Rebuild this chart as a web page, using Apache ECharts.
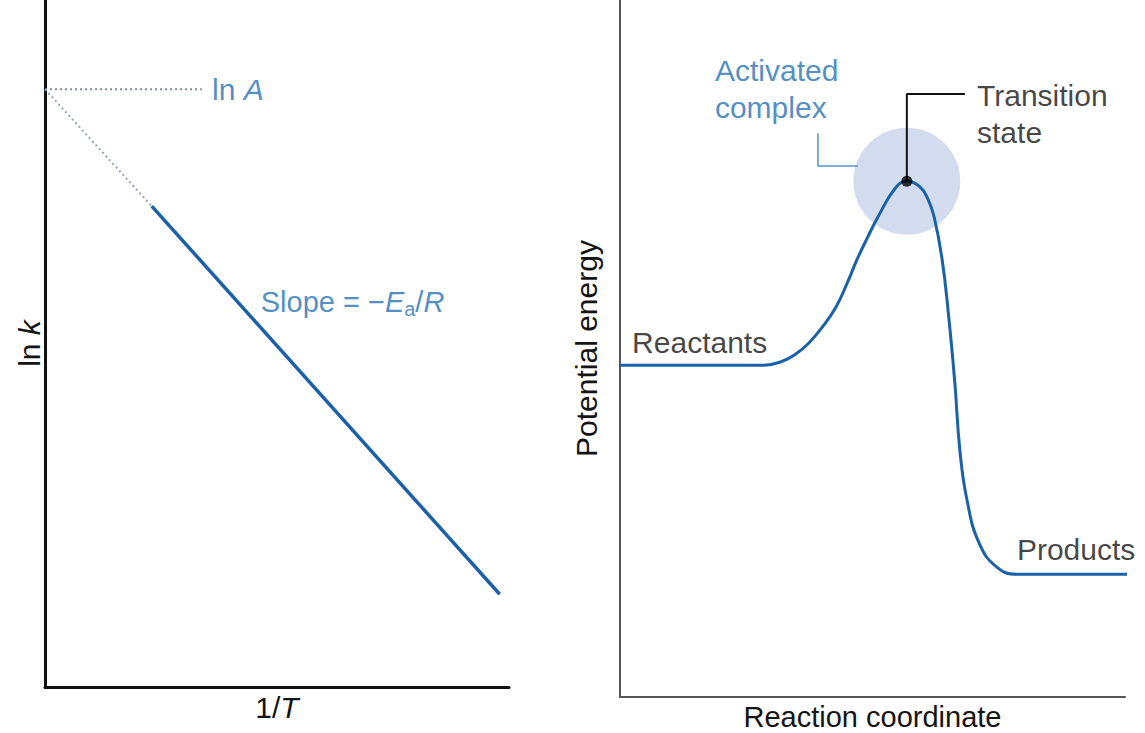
<!DOCTYPE html>
<html>
<head>
<meta charset="utf-8">
<script src="https://cdn.jsdelivr.net/npm/echarts@6/dist/echarts.min.js"></script>
<style>
  html, body { margin: 0; padding: 0; background: #fff; }
  #chart { width: 1145px; height: 733px; }
</style>
</head>
<body>
<div id="chart"></div>
<script>
// left panel: Arrhenius plot (arbitrary units 0..100)
const lnAValue = 87
const lnALine = [[-4.3, 87], [33.8, 87]]
const extrapLine = [[0, 87], [23, 70]]
const measuredLine = [[23, 70], [98, 13.5]]

// right panel: energy profile (arbitrary units 0..100)
const profileX = [0, 28.5, 31.9, 34.8, 37.4, 40.2, 42.8, 45.0, 46.9, 49.0, 51.1, 54.5, 56.8, 59.4, 61.0, 62.2, 63.8, 65.1, 66.3, 67.3, 68.7, 71.1, 74.5, 78.6, 100.6]
const profileY = [47.6, 47.6, 48.1, 49.2, 50.8, 53.2, 56.0, 59.4, 62.7, 65.9, 68.9, 73.0, 74.0, 73.2, 71.4, 68.9, 62.7, 54.5, 45.1, 35.4, 28.3, 22.1, 18.7, 17.6, 17.6]
const transitionPoint = [56.8, 74.0]
const transitionLeader = [[56.8, 74.0], [56.8, 86.5], [68.3, 86.5]]
const complexLeader = [[39.2, 80.9], [39.2, 76.2], [47.1, 76.2]]

const blue = '#1b61a8'
const textBlue = '#2571b3'
const textBlack = '#141414'
const font = 'Liberation Sans, Arial, Helvetica, sans-serif'

const profile = profileX.map((x, i) => [x, profileY[i]])

// text label helper: invisible point with a label
function textPoint(pos, text, color, align, rich) {
  return {
    type: 'scatter',
    xAxisIndex: pos[2], yAxisIndex: pos[2],
    symbolSize: 0,
    silent: true,
    z: 5,
    data: [[pos[0], pos[1]]],
    label: {
      show: true,
      position: 'inside',
      formatter: text,
      color: color,
      textBorderWidth: 0,
      fontSize: 30,
      fontFamily: font,
      lineHeight: 37,
      align: align,
      verticalAlign: 'middle',
      rich: rich || {}
    }
  }
}

const chart = echarts.init(document.getElementById('chart'), null, { renderer: 'svg' })

const axisBase = {
  type: 'value',
  min: 0,
  max: 100,
  splitLine: { show: false },
  axisTick: { show: false },
  axisLabel: { show: false },
  nameLocation: 'middle',
  nameTextStyle: { fontSize: 30, fontFamily: font, color: textBlack }
}

const italicRich = {
  n: { fontSize: 30, fontFamily: font, color: textBlack },
  i: { fontSize: 30, fontFamily: font, color: textBlack, fontStyle: 'italic' }
}

chart.setOption({
  animation: false,
  backgroundColor: '#fff',
  grid: [
    { left: 45, top: 0, width: 464, height: 687, outerBoundsMode: 'none', containLabel: false },
    { left: 620, top: 0, width: 505, height: 697, outerBoundsMode: 'none', containLabel: false }
  ],
  xAxis: [
    Object.assign({}, axisBase, {
      gridIndex: 0,
      name: '{n|1/}{i|T}',
      nameGap: 5,
      nameTextStyle: Object.assign({}, axisBase.nameTextStyle, { rich: italicRich }),
      axisLine: { lineStyle: { color: '#111', width: 3 } }
    }),
    Object.assign({}, axisBase, {
      gridIndex: 1,
      name: 'Reaction coordinate',
      nameGap: 5,
      nameTextStyle: Object.assign({}, axisBase.nameTextStyle, { fontSize: 29, lineHeight: 30 }),
      axisLine: { lineStyle: { color: '#555', width: 2 } }
    })
  ],
  yAxis: [
    Object.assign({}, axisBase, {
      gridIndex: 0,
      name: '{n|ln }{i|k}',
      nameGap: 1,
      nameTextStyle: Object.assign({}, axisBase.nameTextStyle, { rich: italicRich }),
      axisLine: { lineStyle: { color: '#111', width: 3 } }
    }),
    Object.assign({}, axisBase, {
      gridIndex: 1,
      name: 'Potential energy',
      nameGap: 19,
      axisLine: { lineStyle: { color: '#555', width: 2 } }
    })
  ],
  series: [
    // dotted ln A level
    {
      type: 'line', xAxisIndex: 0, yAxisIndex: 0,
      data: lnALine, symbol: 'none', clip: false,
      lineStyle: { color: '#7f8a9c', width: 2, type: [2, 3] }
    },
    // dotted extrapolation
    {
      type: 'line', xAxisIndex: 0, yAxisIndex: 0,
      data: extrapLine, symbol: 'none',
      lineStyle: { color: '#98a4b8', width: 2, type: [2, 3] }
    },
    // measured line
    {
      type: 'line', xAxisIndex: 0, yAxisIndex: 0,
      data: measuredLine, symbol: 'none',
      lineStyle: { color: blue, width: 3.5 }
    },
    // activated complex halo
    {
      type: 'scatter', xAxisIndex: 1, yAxisIndex: 1,
      data: [transitionPoint], symbolSize: 107, silent: true, z: 1,
      itemStyle: { color: '#d3dcef', opacity: 1 }
    },
    // energy profile
    {
      type: 'line', xAxisIndex: 1, yAxisIndex: 1,
      data: profile, symbol: 'none', smooth: 0.45, clip: false, z: 3,
      lineStyle: { color: blue, width: 3 }
    },
    // transition state leader
    {
      type: 'line', xAxisIndex: 1, yAxisIndex: 1,
      data: transitionLeader, symbol: 'none', z: 4,
      lineStyle: { color: '#111', width: 2 }
    },
    // activated complex leader
    {
      type: 'line', xAxisIndex: 1, yAxisIndex: 1,
      data: complexLeader, symbol: 'none', z: 4,
      lineStyle: { color: '#5b93c6', width: 1.5 }
    },
    // transition state dot
    {
      type: 'scatter', xAxisIndex: 1, yAxisIndex: 1,
      data: [transitionPoint], symbolSize: 11, z: 6,
      itemStyle: { color: '#000' }
    },
    textPoint([36, lnAValue, 0], '{n|ln }{i|A}', textBlue, 'left', {
      n: { fontSize: 30, fontFamily: font, color: textBlue },
      i: { fontSize: 30, fontFamily: font, color: textBlue, fontStyle: 'italic' }
    }),
    textPoint([46.5, 56, 0], '{n|Slope = \u2212}{i|E}{s|a}{n|/}{i|R}', textBlue, 'left', {
      n: { fontSize: 29, fontFamily: font, color: textBlue },
      i: { fontSize: 29, fontFamily: font, color: textBlue, fontStyle: 'italic' },
      s: { fontSize: 20, fontFamily: font, color: textBlue, padding: [14, 0, 0, 0] }
    }),
    textPoint([18.8, 87.2, 1], 'Activated\ncomplex', textBlue, 'left'),
    textPoint([70.7, 83.7, 1], 'Transition\nstate', textBlack, 'left'),
    textPoint([2.4, 50.9, 1], 'Reactants', textBlack, 'left'),
    textPoint([78.6, 21.1, 1], 'Products', textBlack, 'left')
  ]
})

window.addEventListener('resize', () => chart.resize())
</script>
</body>
</html>
